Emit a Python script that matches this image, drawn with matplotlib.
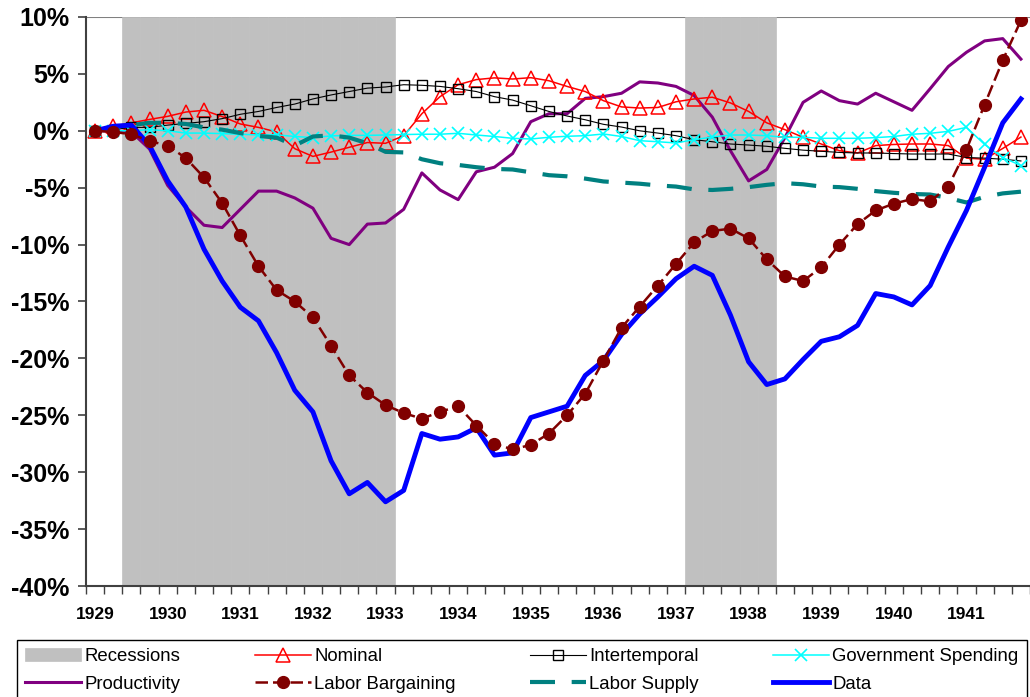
import matplotlib.pyplot as plt
import numpy as np

# quarterly, 1929Q1 .. 1941Q4 (percent deviation)
years = [str(y) for y in range(1929, 1942)]

recession = [0, 0, 1, 1, 1, 1, 1, 1, 1, 1, 1, 1, 1, 1, 1, 1, 1, 0, 0, 0,
             0, 0, 0, 0, 0, 0, 0, 0, 0, 0, 0, 0, 0, 1, 1, 1, 1, 1, 0, 0,
             0, 0, 0, 0, 0, 0, 0, 0, 0, 0, 0, 0]

nominal = [0.0, 0.4, 0.7, 1.0, 1.27, 1.65, 1.8, 1.25, 0.6, 0.3,
           -0.1, -1.57, -2.25, -1.87, -1.45, -1.03, -1.1, -0.43, 1.5, 3.0,
           4.05, 4.5, 4.65, 4.55, 4.67, 4.4, 3.9, 3.45, 2.65, 2.1,
           2.0, 2.05, 2.55, 2.8, 2.95, 2.45, 1.7, 0.7, 0.1, -0.57,
           -1.16, -1.75, -1.95, -1.3, -1.2, -1.16, -1.16, -1.3, -2.4, -2.5,
           -1.55, -0.55]

intertemporal = [0.0, 0.1, 0.3, 0.3, 0.5, 0.65, 0.8, 1.07, 1.45, 1.7,
                 2.05, 2.35, 2.8, 3.15, 3.45, 3.75, 3.85, 4.05, 4.0, 3.9,
                 3.7, 3.45, 3.0, 2.7, 2.2, 1.7, 1.3, 0.97, 0.57, 0.33,
                 0.0, -0.2, -0.43, -0.78, -0.96, -1.16, -1.25, -1.36, -1.54, -1.7,
                 -1.8, -1.9, -1.95, -1.95, -2.0, -2.04, -2.04, -2.04, -2.35, -2.4,
                 -2.5, -2.65]

gov_spending = [0.0, 0.0, 0.0, 0.1, 0.0, -0.2, -0.2, -0.25, -0.3, -0.37,
                -0.35, -0.5, -0.6, -0.45, -0.4, -0.4, -0.37, -0.33, -0.3, -0.3,
                -0.22, -0.37, -0.5, -0.66, -0.72, -0.57, -0.48, -0.43, -0.28, -0.5,
                -0.87, -0.96, -1.07, -0.78, -0.55, -0.37, -0.37, -0.43, -0.57, -0.57,
                -0.66, -0.66, -0.66, -0.6, -0.5, -0.3, -0.22, -0.05, 0.3, -1.2,
                -2.35, -3.05]

productivity = [0.0, 0.0, -0.1, -1.6, -4.8, -6.7, -8.3, -8.5, -6.9, -5.3,
                -5.3, -5.9, -6.8, -9.45, -10.0, -8.2, -8.1, -6.9, -3.7, -5.2,
                -6.05, -3.6, -3.2, -2.0, 0.8, 1.5, 1.5, 2.85, 3.0, 3.3,
                4.3, 4.2, 3.9, 3.1, 1.2, -1.75, -4.4, -3.4, -0.6, 2.5,
                3.5, 2.65, 2.35, 3.3, 2.55, 1.8, 3.7, 5.65, 6.9, 7.9,
                8.1, 6.3]

labor_bargaining = [0.0, -0.1, -0.3, -0.9, -1.3, -2.4, -4.1, -6.35, -9.2, -11.9,
                    -14.0, -15.0, -16.4, -18.9, -21.5, -23.0, -24.1, -24.8, -25.3, -24.7,
                    -24.2, -25.9, -27.5, -28.0, -27.6, -26.6, -25.0, -23.1, -20.2, -17.3,
                    -15.45, -13.6, -11.7, -9.8, -8.8, -8.6, -9.45, -11.3, -12.8, -13.2,
                    -12.0, -10.0, -8.2, -7.0, -6.4, -6.0, -6.2, -4.9, -1.65, 2.3,
                    6.2, 9.7]

labor_supply = [0.0, 0.2, 0.5, 0.7, 0.7, 0.6, 0.3, 0.1, -0.2, -0.45,
                -0.6, -1.3, -0.5, -0.4, -0.6, -1.1, -1.85, -1.9, -2.5, -2.85,
                -3.0, -3.2, -3.35, -3.4, -3.65, -3.9, -4.0, -4.2, -4.45, -4.55,
                -4.65, -4.8, -4.9, -5.15, -5.2, -5.1, -4.95, -4.75, -4.6, -4.7,
                -4.9, -4.95, -5.1, -5.3, -5.45, -5.55, -5.6, -5.9, -6.3, -5.8,
                -5.5, -5.35]

data = [0.0, 0.4, 0.5, -1.3, -4.4, -6.7, -10.4, -13.2, -15.5, -16.7,
        -19.5, -22.8, -24.7, -29.0, -31.9, -30.9, -32.6, -31.6, -26.6, -27.1,
        -26.9, -26.1, -28.5, -28.3, -25.2, -24.7, -24.2, -21.5, -20.2, -17.9,
        -16.1, -14.6, -13.0, -11.9, -12.7, -16.2, -20.3, -22.3, -21.8, -20.1,
        -18.5, -18.1, -17.1, -14.3, -14.6, -15.3, -13.6, -10.2, -7.0, -3.2,
        0.7, 2.8]

y_min, y_max = -40, 10

plt.rcParams["font.family"] = ["Liberation Sans", "DejaVu Sans"]

x = np.arange(len(data))

fig = plt.figure(figsize=(10.3, 6.97), dpi=100)
ax = fig.add_axes([86 / 1030, 1 - 586 / 697, 944 / 1030, 569 / 697])

# recession shading as full-height columns
rec_h = [(y_max - y_min) if r else 0 for r in recession]
ax.bar(x, rec_h, bottom=y_min, width=1.0, color="#C0C0C0",
       edgecolor="#C0C0C0", linewidth=0.5, zorder=1, label="Recessions")
ax.axhline(y_max, color="#808080", lw=1.5, zorder=0.5)

ax.plot(x, productivity, color="#800080", lw=2.2, zorder=3, label="Productivity")
ax.plot(x, nominal, color="#FF0000", lw=1.1, marker="^", ms=9.5,
        mfc="none", mec="#FF0000", mew=1.1, zorder=4, label="Nominal")
ax.plot(x, intertemporal, color="black", lw=0.8, marker="s", ms=6.5,
        mfc="none", mec="black", mew=1.0, zorder=4, label="Intertemporal")
ax.plot(x, gov_spending, color="#00FFFF", lw=1.1, marker="x", ms=8.5,
        mew=1.2, zorder=4, label="Government Spending")
ax.plot(x, labor_supply, color="#008080", lw=3.0, dashes=(6, 4),
        zorder=5, label="Labor Supply")
ax.plot(x, data, color="#0000FF", lw=3.5, zorder=6, label="Data")
ax.plot(x, labor_bargaining, color="#800000", lw=1.8, dashes=(5, 2),
        marker="o", ms=8.5, zorder=7, label="Labor Bargaining")

ax.set_xlim(-0.5, 51.25)
ax.set_ylim(y_min, y_max)

yt = list(range(y_max, y_min - 1, -5))
ax.set_yticks(yt)
ax.set_yticklabels([f"{v}%" for v in yt], fontsize=18, fontweight="bold")
ax.tick_params(axis="y", direction="out", length=6, width=1.2, pad=6,
               color="#404040")

ax.set_xticks(x[::4])
ax.set_xticklabels(years, fontsize=12.5, fontweight="bold")
ax.set_xticks(np.arange(-0.5, len(data), 1.0), minor=True)
ax.tick_params(axis="x", which="major", length=0, pad=15)
ax.tick_params(axis="x", which="minor", direction="out", length=6,
               width=1.0, color="#404040")

for s in ["top", "right"]:
    ax.spines[s].set_visible(False)
for s in ["left", "bottom"]:
    ax.spines[s].set_color("#404040")
    ax.spines[s].set_linewidth(1.5)

h, l = ax.get_legend_handles_labels()
order = ["Recessions", "Productivity", "Nominal", "Labor Bargaining",
         "Intertemporal", "Labor Supply", "Government Spending", "Data"]
hd = dict(zip(l, h))
leg = fig.legend([hd[k] for k in order], order, ncol=4, mode="expand",
                 loc="upper left",
                 bbox_to_anchor=(17 / 1030, 0.0, 1010 / 1030, 1 - 640 / 697),
                 fontsize=13.4, frameon=True, fancybox=False, framealpha=1,
                 edgecolor="black", handlelength=3.0, handletextpad=0.2,
                 borderpad=0.45, labelspacing=0.55, borderaxespad=0)
leg.get_frame().set_linewidth(1.0)

fig.savefig("out.png", dpi=100)
